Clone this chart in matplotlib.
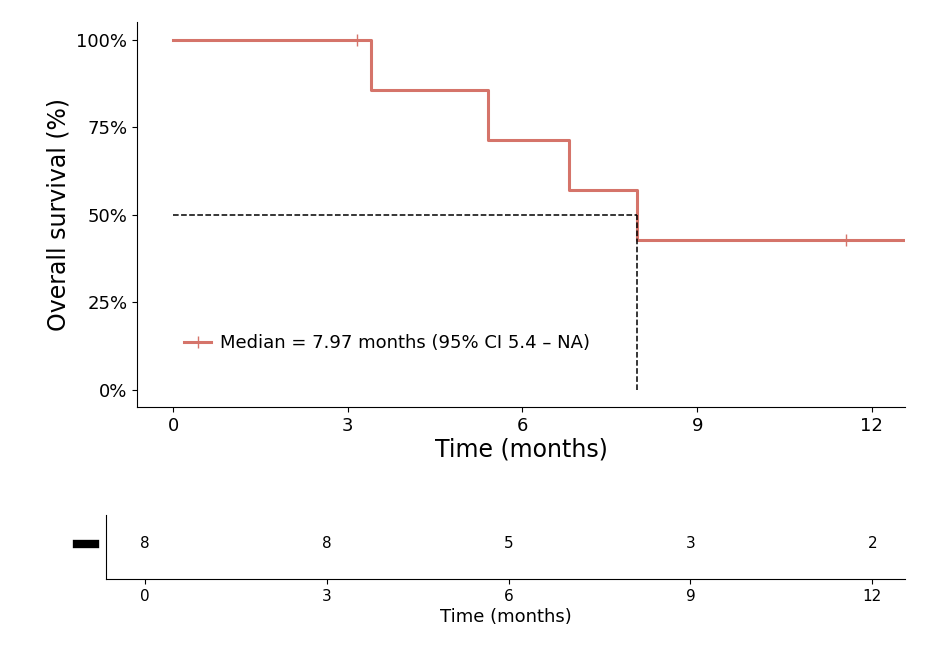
import matplotlib.pyplot as plt
import numpy as np

# KM step data
step_times = [0, 3.4, 5.4, 6.8, 7.97, 12.57]
surv = [100, 85.7, 71.4, 57.1, 42.9, 42.9]
censor_t = [3.15, 11.55]
censor_s = [100, 42.9]
median = 7.97
risk_times = [0, 3, 6, 9, 12]
risk_n = [8, 8, 5, 3, 2]
col = '#D5746A'

fig = plt.figure(figsize=(9.34, 6.48), dpi=100)
W, H = 934, 648
ax = fig.add_axes([137/W, 1-407/H, (905-137)/W, (407-22)/H])
ax.step(step_times, surv, where='post', color=col, lw=2.2)
ax.plot(censor_t, censor_s, '+', color=col, ms=8, mew=1)
ax.plot([0, median], [50, 50], 'k--', lw=1.1)
ax.plot([median, median], [0, 50], 'k--', lw=1.1)
ax.plot([], [], color=col, lw=2.2, marker='+', ms=9,
        label='Median = 7.97 months (95% CI 5.4 – NA)')
ax.legend(loc='lower left', bbox_to_anchor=(0.04, 0.1), frameon=False,
          fontsize=13, handlelength=1.5, handletextpad=0.5)
ax.set_xlim(-0.62, 12.57)
ax.set_ylim(-4.9, 105.1)
ax.set_xticks([0, 3, 6, 9, 12])
ax.set_yticks([0, 25, 50, 75, 100])
ax.set_yticklabels(['0%', '25%', '50%', '75%', '100%'])
ax.tick_params(labelsize=13)
ax.set_xlabel('Time (months)', fontsize=17, labelpad=2)
ax.set_ylabel('Overall survival (%)', fontsize=17)
for s in ['top', 'right']:
    ax.spines[s].set_visible(False)

ax2 = fig.add_axes([106/W, 1-579/H, (905-106)/W, (579-515)/H])
ax2.set_xlim(-0.64, 12.54)
ax2.set_ylim(0, 1)
for t, n in zip(risk_times, risk_n):
    ax2.text(t, 0.55, str(n), ha='center', va='center', fontsize=11)
ax2.set_xticks(risk_times)
ax2.set_yticks([])
ax2.tick_params(labelsize=11)
ax2.set_xlabel('Time (months)', fontsize=13, labelpad=3)
for s in ['top', 'right']:
    ax2.spines[s].set_visible(False)
ax2.plot([-0.036, -0.014], [0.55, 0.55], color='black', lw=6,
         transform=ax2.transAxes, clip_on=False)

fig.savefig('out.png', dpi=100)
